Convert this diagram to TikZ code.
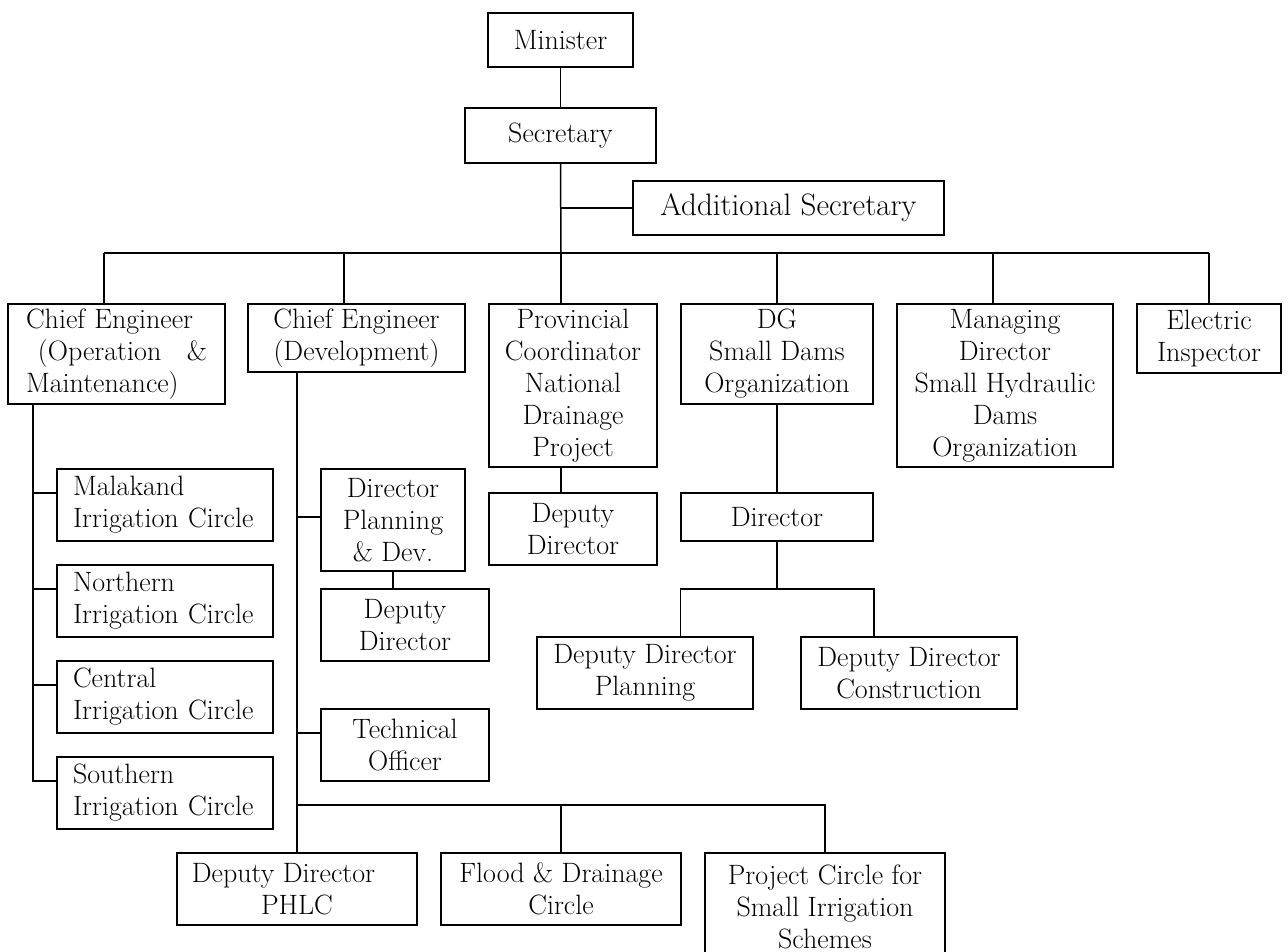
\documentclass[tikz,border=0pt]{standalone}
\usepackage{fontspec}
\begin{document}
\begin{tikzpicture}[x=1pt,y=-1pt,
  box/.style={draw, line width=1.5pt, inner sep=0pt, align=center, font=\fontsize{28}{32}\selectfont},
  conn/.style={line width=1.5pt}]
\newcommand\orgbox[7][]{\node[box,#1, minimum width={(#5-#3)*1pt}, minimum height={(#6-#4)*1pt}] (#2) at ({(#3+#5)/2},{(#4+#6)/2}) {#7};}
\useasboundingbox (0,0) rectangle (1288,952);
% top
\orgbox{min}{488}{13}{633}{67}{Minister}
\orgbox{sec}{465}{108}{656}{163}{Secretary}
\orgbox[font=\fontsize{31}{36}\selectfont]{adds}{633}{181}{944}{235}{Additional Secretary}
% row 1
\orgbox[text width=181pt, align=left]{ceom}{8}{304}{225}{404}{Chief Engineer\\\hspace*{12pt}\makebox[169pt][l]{(Operation\hfill\&}\\Maintenance)}
\orgbox{cedev}{248}{304}{465}{372}{Chief Engineer\\(Development)}
\orgbox{prov}{489}{304}{657}{467}{Provincial\\Coordinator\\National\\Drainage\\Project}
\orgbox{dg}{681}{304}{873}{404}{DG\\Small Dams\\Organization}
\orgbox{md}{897}{304}{1113}{467}{Managing\\Director\\Small Hydraulic\\Dams\\Organization}
\orgbox{elec}{1137}{304}{1281}{373}{Electric\\Inspector}
% O&M circles
\orgbox[text width=184pt, align=left]{mal}{57}{469}{273}{541}{Malakand\\Irrigation Circle}
\orgbox[text width=184pt, align=left]{nor}{57}{565}{273}{637}{Northern\\Irrigation Circle}
\orgbox[text width=184pt, align=left]{cen}{57}{661}{273}{733}{Central\\Irrigation Circle}
\orgbox[text width=184pt, align=left]{sou}{57}{757}{273}{829}{Southern\\Irrigation Circle}
% development
\orgbox{dpd}{321}{469}{465}{571}{Director\\Planning\\\& Dev.}
\orgbox{dd1}{321}{589}{489}{661}{Deputy\\Director}
\orgbox{tech}{321}{709}{489}{781}{Technical\\Officer}
\orgbox{phlc}{177}{853}{417}{925}{Deputy Director\hspace*{27pt}\\PHLC}
\orgbox{flood}{441}{853}{681}{925}{Flood \& Drainage\\Circle}
\orgbox{proj}{705}{853}{945}{961}{Project Circle for\\Small Irrigation\\Schemes}
% provincial & DG
\orgbox{dd2}{489}{493}{657}{565}{Deputy\\Director}
\orgbox{dir}{681}{493}{873}{541}{Director}
\orgbox{ddp}{537}{637}{753}{709}{Deputy Director\\Planning}
\orgbox{ddc}{801}{637}{1017}{709}{Deputy Director\\Construction}
% coordinates
\coordinate (bus) at (561,253);
\coordinate (b1) at (104,253);
\coordinate (b2) at (344,253);
\coordinate (b3) at (561,253);
\coordinate (b4) at (777,253);
\coordinate (b5) at (993,253);
\coordinate (b6) at (1209,253);
\coordinate (omx) at (33,0);
\coordinate (devx) at (297,0);
\coordinate (devbus) at (297,805);
\coordinate (dirbus) at (777,589);
\coordinate (dl) at (dirbus -| dir.west);
\coordinate (dr) at (dirbus -| dir.east);
% connectors
\draw[conn] (min.south) -- (sec.north);
\draw[conn] (sec.south) -- (bus);
\draw[conn] (adds.west) -- (adds.west -| sec.south);
\draw[conn] (b1) -- (b6);
\draw[conn] (b1) -- (b1 |- ceom.north);
\draw[conn] (b2) -- (b2 |- cedev.north);
\draw[conn] (b3) -- (b3 |- prov.north);
\draw[conn] (b4) -- (dg.north);
\draw[conn] (b5) -- (b5 |- md.north);
\draw[conn] (b6) -- (elec.north);
% O&M trunk
\draw[conn] (omx |- ceom.south) |- ([yshift=12pt]sou.west);
\draw[conn] ([yshift=12pt]mal.west) -- ([yshift=12pt]mal.west -| omx);
\draw[conn] ([yshift=12pt]nor.west) -- ([yshift=12pt]nor.west -| omx);
\draw[conn] ([yshift=12pt]cen.west) -- ([yshift=12pt]cen.west -| omx);
% development trunk
\draw[conn] (devx |- cedev.south) -- (devx |- phlc.north);
\draw[conn] ([yshift=3pt]dpd.west) -- ([yshift=3pt]dpd.west -| devx);
\draw[conn] ([yshift=12pt]tech.west) -- ([yshift=12pt]tech.west -| devx);
\draw[conn] (dpd.south) -- (dpd.south |- dd1.north);
\draw[conn] (devbus) -| (proj.north);
\draw[conn] (devbus -| flood.north) -- (flood.north);
% provincial
\draw[conn] ([xshift=-12pt]prov.south) -- ([xshift=-12pt]dd2.north);
% DG
\draw[conn] (dg.south) -- (dir.north);
\draw[conn] (dir.south) -- (dirbus);
\draw[conn] (dl |- ddp.north) -- (dl) -- (dr) -- (dr |- ddc.north);
\end{tikzpicture}
\end{document}
